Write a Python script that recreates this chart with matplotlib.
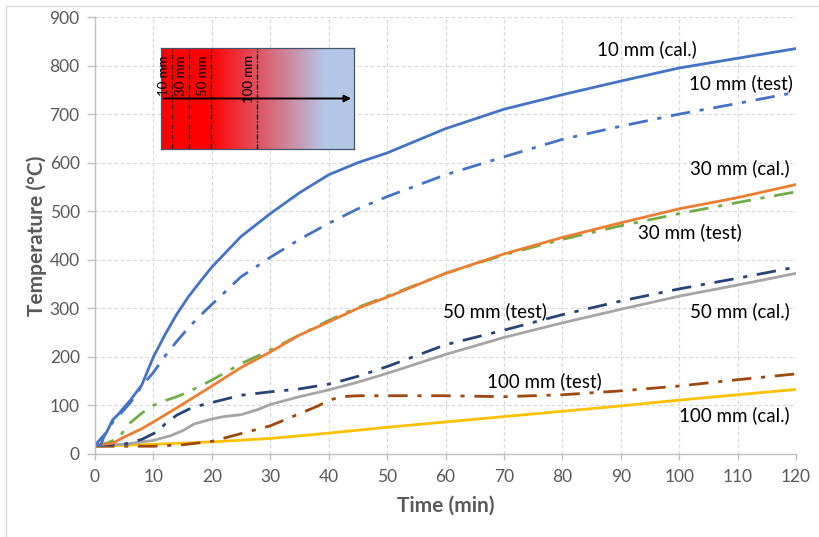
import numpy as np
import matplotlib
matplotlib.use("Agg")
import matplotlib.pyplot as plt
from matplotlib.patches import Rectangle

# ---------------- data ----------------
t_cal10 = [0, 2, 3, 4, 6, 8, 10, 12, 14, 16, 18, 20, 25, 30, 35, 40, 45, 50, 60, 70, 80, 90, 100, 110, 120]
T_cal10 = [18, 45, 70, 82, 110, 142, 200, 246, 288, 324, 355, 385, 448, 495, 538, 575, 600, 620, 670, 710, 740, 768, 795, 815, 835]

t_test10 = [0, 1, 1.5, 2, 3, 4, 6, 8, 10, 12, 14, 16, 18, 20, 25, 30, 35, 40, 45, 50, 60, 70, 80, 90, 100, 110, 120]
T_test10 = [18, 18, 35, 45, 65, 78, 105, 140, 168, 202, 232, 260, 285, 308, 365, 405, 442, 475, 505, 530, 575, 612, 648, 675, 700, 722, 745]

t_cal30 = [0, 3, 5, 8, 10, 14, 20, 25, 30, 35, 40, 45, 50, 60, 70, 80, 90, 100, 110, 120]
T_cal30 = [18, 22, 35, 52, 66, 95, 140, 178, 210, 245, 272, 300, 323, 372, 412, 446, 476, 505, 528, 555]

t_test30 = [0, 2, 4, 6, 8, 10, 12, 14, 16, 18, 20, 25, 30, 35, 40, 45, 50, 60, 70, 80, 90, 100, 110, 120]
T_test30 = [18, 22, 33, 64, 84, 100, 110, 118, 128, 140, 152, 186, 214, 245, 275, 302, 325, 372, 410, 442, 470, 495, 518, 540]

t_test50 = [0, 5, 8, 10, 11, 12, 14, 16, 18, 20, 25, 30, 35, 40, 42, 45, 50, 60, 70, 80, 90, 100, 110, 120]
T_test50 = [18, 20, 30, 42, 49, 62, 80, 92, 100, 106, 121, 128, 134, 144, 150, 160, 180, 225, 255, 287, 315, 340, 362, 385]

t_cal50 = [0, 5, 10, 13, 15, 17, 20, 22, 25, 28, 30, 35, 40, 45, 50, 60, 70, 80, 90, 100, 110, 120]
T_cal50 = [18, 20, 28, 38, 48, 62, 72, 77, 81, 92, 102, 118, 132, 148, 166, 205, 240, 270, 298, 325, 348, 372]

t_test100 = [0, 10, 15, 20, 25, 30, 34, 38, 40, 42, 45, 60, 70, 80, 90, 100, 110, 120]
T_test100 = [16, 16, 19, 26, 42, 58, 78, 98, 110, 118, 120, 120, 118, 122, 130, 140, 153, 165]

t_cal100 = [0, 10, 20, 30, 40, 50, 60, 70, 80, 90, 100, 110, 120]
T_cal100 = [16, 20, 25, 32, 43, 55, 66, 77, 88, 99, 111, 122, 133]

inset_depths = ["10 mm", "30 mm", "50 mm", "100 mm"]

x_ticks = list(range(0, 121, 10))
y_ticks = list(range(0, 901, 100))

# ---------------- style ----------------
plt.rcParams['font.family'] = ['Lato', 'DejaVu Sans']
BLUE = "#4472C4"; ORANGE = "#ED7D31"; GRAY = "#A5A5A5"; YELLOW = "#FFC000"
DBLUE = "#264478"; BROWN = "#9E480E"; GREEN = "#70AD47"
TXT = "#595959"

fig = plt.figure(figsize=(8.19, 5.37), dpi=100)
# outer light frame
fig.patches.append(Rectangle((6/819, -0.1), 1.2, 1 - 6/537 + 0.1, transform=fig.transFigure,
                             fill=False, edgecolor="#D9D9D9", lw=1.0))

ax = fig.add_axes([95/819, 1 - 454/537, (796 - 95)/819, (454 - 17)/537])

dd = (0, (7, 3.5, 1.5, 3.5))
lw = 2.0
ax.plot(t_cal100, T_cal100, color=YELLOW, lw=lw, solid_capstyle='round')
ax.plot(t_test100, T_test100, color=BROWN, lw=lw, ls=dd)
ax.plot(t_cal50, T_cal50, color=GRAY, lw=lw)
ax.plot(t_test50, T_test50, color=DBLUE, lw=lw, ls=dd)
ax.plot(t_test30, T_test30, color=GREEN, lw=lw, ls=dd)
ax.plot(t_cal30, T_cal30, color=ORANGE, lw=lw)
ax.plot(t_test10, T_test10, color=BLUE, lw=lw, ls=dd)
ax.plot(t_cal10, T_cal10, color=BLUE, lw=lw)

ax.set_xlim(0, 120)
ax.set_ylim(0, 900)
ax.set_xticks(x_ticks)
ax.set_yticks(y_ticks)
ax.tick_params(axis='both', colors="#BFBFBF", labelcolor=TXT, labelsize=12.5)
ax.tick_params(axis='y', length=6, width=1, pad=5)
ax.tick_params(axis='x', length=4, width=1, pad=7)
ax.grid(True, color="#D9D9D9", ls=(0, (3, 2)), lw=0.9)
ax.set_axisbelow(True)
for s in ['top', 'right']:
    ax.spines[s].set_visible(False)
for s in ['left', 'bottom']:
    ax.spines[s].set_color("#BFBFBF")
    ax.spines[s].set_linewidth(1.0)

ax.set_xlabel("Time (min)", fontsize=15, fontweight='bold', color=TXT)
ax.set_ylabel("Temperature (°C)", fontsize=15, fontweight='bold', color=TXT)
ax.xaxis.set_label_coords(0.5, -0.119)
ax.yaxis.set_label_coords(-0.083, 0.5)
ax.xaxis.label.set_va('center')
ax.yaxis.label.set_va('center')

lab_kw = dict(fontsize=13.5, color="black", va='center', ha='center')
ax.text(94.5, 834, "10 mm (cal.)", **lab_kw)
ax.text(110.6, 764, "10 mm (test)", **lab_kw)
ax.text(110.4, 589, "30 mm (cal.)", **lab_kw)
ax.text(101.8, 457, "30 mm (test)", **lab_kw)
ax.text(68.5, 294, "50 mm (test)", **lab_kw)
ax.text(110.4, 294, "50 mm (cal.)", **lab_kw)
ax.text(77, 149, "100 mm (test)", **lab_kw)
ax.text(109.5, 80, "100 mm (cal.)", **lab_kw)

# ---------------- inset ----------------
ins = fig.add_axes([161/819, 1 - 149/537, (354 - 161)/819, (149 - 48)/537])
red = np.array([1.0, 0.0, 0.0])
lblue = np.array([180, 199, 231]) / 255
xs = np.linspace(0, 1, 400)
w = np.clip((xs - 0.25) / 0.6, 0, 1)
grad = (1 - w)[:, None] * red + w[:, None] * lblue
ins.imshow(grad[None, :, :], extent=[0, 1, 0, 1], aspect='auto', origin='lower')
ins.set_xlim(0, 1); ins.set_ylim(0, 1)
ins.set_xticks([]); ins.set_yticks([])
for s in ins.spines.values():
    s.set_color("#44546A"); s.set_linewidth(0.9)
line_pos = [0.057, 0.145, 0.259, 0.497]
for xp, lab in zip(line_pos, inset_depths):
    ins.plot([xp, xp], [0, 1], color="black", lw=0.9, ls=(0, (4, 1.5, 1, 1.5)))
    ins.text(xp - 0.008, 0.93, lab, rotation=90, ha='right', va='top', fontsize=9.5,
             color="black")
ins.annotate("", xy=(1.0, 0.5), xytext=(0.0, 0.5),
             arrowprops=dict(arrowstyle="-|>", color="black", lw=1.4, mutation_scale=10))

fig.savefig("out.png", dpi=100)
